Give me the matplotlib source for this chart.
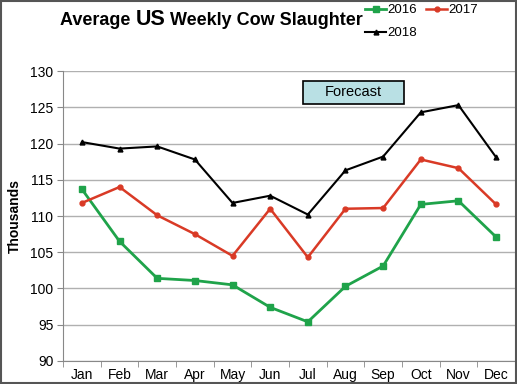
import matplotlib.pyplot as plt
from matplotlib.patches import Rectangle

plt.rcParams['font.family'] = ['Liberation Sans', 'DejaVu Sans']

months = ['Jan', 'Feb', 'Mar', 'Apr', 'May', 'Jun', 'Jul', 'Aug', 'Sep', 'Oct', 'Nov', 'Dec']
y2016 = [113.7, 106.5, 101.4, 101.1, 100.5, 97.4, 95.4, 100.3, 103.1, 111.6, 112.1, 107.1]
y2017 = [111.8, 114.0, 110.1, 107.5, 104.5, 111.0, 104.3, 111.0, 111.1, 117.8, 116.6, 111.6]
y2018 = [120.2, 119.3, 119.6, 117.8, 111.8, 112.8, 110.2, 116.3, 118.2, 124.3, 125.3, 118.1]
yticks = [90, 95, 100, 105, 110, 115, 120, 125, 130]

fig = plt.figure(figsize=(5.17, 3.84), dpi=100)
ax = fig.add_axes([0.122, 0.06, 0.874, 0.755])

x = range(len(months))
l16, = ax.plot(x, y2016, color='#1fa34a', lw=2, marker='s', ms=5, label='2016')
l17, = ax.plot(x, y2017, color='#d93a26', lw=1.8, marker='o', ms=3.5, label='2017')
l18, = ax.plot(x, y2018, color='black', lw=1.5, marker='^', ms=3.5, label='2018')

ax.set_xlim(-0.5, 11.5)
ax.set_ylim(90, 130)
ax.set_yticks(yticks)
ax.set_xticks(list(x))
ax.set_xticklabels(months, fontsize=10)
ax.set_xticks([i + 0.5 for i in range(-1, 11)], minor=True)
ax.tick_params(axis='x', which='major', length=0, pad=5)
ax.tick_params(axis='x', which='minor', length=4, color='#888888')
ax.tick_params(axis='y', labelsize=10, length=4, color='#888888', pad=3)
ax.grid(axis='y', color='#b0b0b0', lw=1)
ax.set_axisbelow(True)
for s in ['top', 'right']:
    ax.spines[s].set_visible(False)
for s in ['left', 'bottom']:
    ax.spines[s].set_color('#888888')
ax.set_ylabel('Thousands', fontsize=10, fontweight='bold', labelpad=6)

# forecast box
ax.add_patch(Rectangle((0.531, 0.887), 0.223, 0.078, transform=ax.transAxes,
                       fc='#b9e0e4', ec='black', lw=1.2, zorder=3))
ax.text(0.6425, 0.926, 'Forecast', transform=ax.transAxes, ha='center', va='center',
        fontsize=10.5, zorder=4)

# legend, row 1: 2016 2017, row 2: 2018
fig.legend([l16, l18, l17], ['2016', '2018', '2017'], ncol=2, frameon=False,
           loc='upper left', bbox_to_anchor=(0.683, 1.02), fontsize=9.5,
           handlelength=1.6, handletextpad=0.1, columnspacing=0.7, labelspacing=0.8)

# title with larger "US"
fig.canvas.draw()
r = fig.canvas.get_renderer()
ty = 0.935
t1 = fig.text(0.116, ty, 'Average ', fontsize=13, fontweight='bold', va='baseline')
bb = t1.get_window_extent(r)
t2 = fig.text(bb.x1 / fig.bbox.width, ty, 'US', fontsize=15.5, fontweight='bold', va='baseline')
bb = t2.get_window_extent(r)
fig.text(bb.x1 / fig.bbox.width, ty, ' Weekly Cow Slaughter', fontsize=13, fontweight='bold', va='baseline')

fig.patches.append(Rectangle((0.002, 0.002), 0.996, 0.996, transform=fig.transFigure,
                             fill=False, ec='#555555', lw=1.5))

fig.savefig('out.png', dpi=100)
